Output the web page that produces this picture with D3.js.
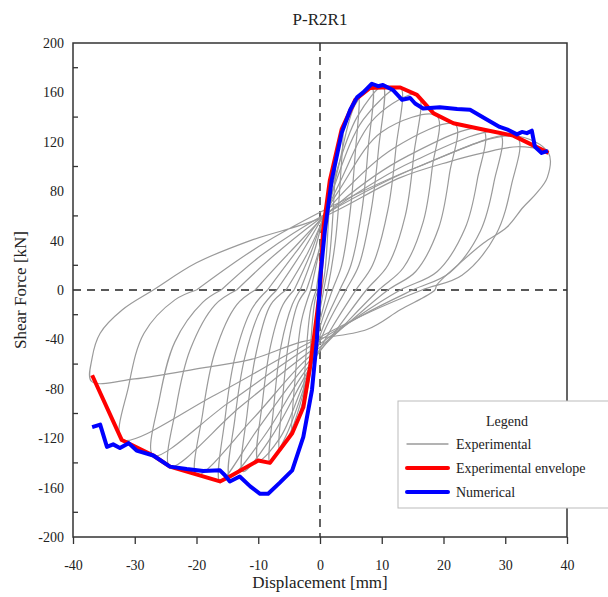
<!DOCTYPE html>
<html>
<head>
<meta charset="utf-8">
<script src="https://cdn.jsdelivr.net/npm/d3@7"></script>
<style>
    body { margin: 0; background: #fff; }
    svg { display: block; font-family: "Liberation Serif", "DejaVu Serif", serif; }
    .tick text { font-size: 14px; fill: #222; }
</style>
</head>
<body>
<div id="chart"></div>
<script>
// experimental hysteresis, one array per cycle: [displacement mm, force kN]
let cycle1 = [[0,0],[0.5,40],[1.0,70],[1.6,89],[1.3,50],[0.8,15],[0.3,0],[-0.3,-25],[-1.0,-48],[-1.6,-62],[-1.3,-30],[-0.8,-8],[-0.3,0]];
let cycle2 = [[-0.3,0],[0.5,35],[1.5,80],[2.5,110],[2.2,70],[1.5,25],[0.6,0],[-0.5,-30],[-1.6,-68],[-2.7,-95],[-2.3,-55],[-1.5,-15],[-0.6,0]];
let cycle3 = [[-0.6,0],[0.5,40],[2.0,95],[3.7,132],[3.3,90],[2.5,40],[1.2,0],[-0.5,-35],[-2.5,-85],[-4.5,-116],[-4.0,-70],[-3.0,-25],[-1.5,0]];
let cycle4 = [[-1.5,0],[0,35],[2.5,105],[4.5,140],[6.2,157],[5.7,110],[4.8,60],[3.5,20],[2,0],[0,-30],[-2.5,-80],[-4.5,-112],[-6.5,-130],[-6.0,-85],[-5.0,-40],[-3.5,-10],[-2.2,0]];
let cycle5 = [[-2.2,0],[0,35],[3,100],[5.7,150],[8.4,164],[7.8,115],[6.8,65],[5.0,20],[3.2,0],[0.5,-30],[-3,-85],[-5.5,-118],[-8.1,-140],[-7.5,-95],[-6.3,-45],[-4.5,-12],[-3.2,0]];
let cycle6 = [[-3.2,0],[-1,30],[2,85],[6,140],[10.2,165],[9.5,115],[8.3,65],[6.3,20],[4.2,0],[1,-30],[-3,-80],[-6.5,-120],[-10,-138],[-9.3,-90],[-8.0,-45],[-6,-12],[-4.2,0]];
let cycle7 = [[-4.2,0],[-1.5,30],[2,80],[7,138],[13,164],[12.3,115],[11,65],[8.5,20],[5.8,0],[2,-30],[-3,-75],[-8,-120],[-12.5,-147],[-11.8,-100],[-10.3,-50],[-8,-12],[-5.5,0]];
let cycle8 = [[-5.5,0],[-2,30],[3,85],[9,140],[15.9,158],[15.2,110],[13.8,60],[11,20],[7.5,0],[3,-30],[-3,-70],[-9,-118],[-14.6,-151],[-13.8,-105],[-12.2,-55],[-9.5,-15],[-7,0]];
let cycle9 = [[-7,0],[-3,30],[3,80],[10,128],[18.9,141],[18.2,100],[16.7,55],[13.5,18],[9.5,0],[4,-28],[-3,-65],[-10,-112],[-16.2,-155],[-15.4,-105],[-13.8,-55],[-11,-15],[-8.5,0]];
let cycle10 = [[-8.5,0],[-4,30],[3,75],[12,115],[21.9,134],[21,95],[19.2,50],[15.5,15],[11,0],[5,-25],[-3,-60],[-11,-105],[-20,-150],[-19,-100],[-17,-50],[-13.5,-12],[-10.5,0]];
let cycle11 = [[-10.5,0],[-5,30],[3,70],[14,108],[26.4,130],[25.5,90],[23.5,50],[19,15],[13,0],[6,-22],[-3,-55],[-13,-95],[-24.3,-143],[-23.3,-95],[-21,-48],[-17,-12],[-13.5,0]];
let cycle12 = [[-13.5,0],[-7,30],[2,65],[15,104],[29.1,127],[28.2,88],[26,48],[21,14],[15,0],[7,-20],[-3,-50],[-15,-92],[-27,-134],[-26,-88],[-23.5,-42],[-19,-10],[-16,0]];
let cycle13 = [[-16,0],[-9,30],[1,62],[16,100],[31.9,124],[31,85],[28.5,45],[23,12],[16.5,0],[8,-18],[-3,-46],[-17,-85],[-32.1,-121],[-31,-78],[-28.5,-35],[-23.5,-8],[-20,0]];
let cycle14 = [[-20,0],[-10,35],[2,68],[16,100],[31.3,125],[37,111],[36.8,91],[35,78],[32.9,67],[30.3,51],[26.5,38],[22.7,22],[18.9,4],[18.6,0],[13,-16],[7.6,-32],[-3,-42],[-11,-56],[-19,-63],[-30,-72],[-37,-74],[-36.9,-55],[-35.6,-35],[-32,-16],[-27,0],[-20,22],[-11.3,40],[0,58],[13,91],[21,104],[26.4,111],[32,116],[37,113]];

let experimental = [cycle1, cycle2, cycle3, cycle4, cycle5, cycle6, cycle7, cycle8, cycle9, cycle10, cycle11, cycle12, cycle13, cycle14];

// experimental envelope
let envelope = [[-36.9,-69],[-32.1,-121.5],[-27,-134],[-24.3,-143],[-16.2,-155],[-14.6,-151],[-10,-138],[-8.1,-140],[-4.5,-116],[-2.7,-95],[-1.6,-62],[-0.5,-20],[0,0],[0.5,48.6],[1.6,89],[3.5,130],[5.7,154],[8.1,163.6],[10,164],[13,164],[15.7,158],[18.4,143],[21.6,135],[26.4,130],[31.3,125],[37,111]];

// numerical model
let numerical = [[-36.9,-111],[-35.6,-109],[-34.5,-127],[-33.5,-125],[-32.4,-128],[-31,-124],[-29.7,-130],[-27,-134],[-24.3,-143],[-21.6,-145],[-18.9,-146.5],[-16.2,-146],[-15.4,-150],[-14.6,-155],[-13,-151],[-11.3,-159],[-9.7,-165],[-8.4,-165],[-6.5,-156],[-4.5,-146],[-2.7,-119],[-1.3,-81],[-0.5,-40],[0,8],[0.8,48.6],[1.9,89],[3.5,127],[4.9,146],[6,156],[7,160],[8.4,167],[9.4,165],[10.2,166],[11.8,162],[13.3,154],[14.6,155.5],[15.4,151],[16.7,147],[19.4,148],[22.2,146.5],[24.3,146],[27,138],[29.1,132],[30.5,129.6],[31.9,126],[32.7,128],[33.5,127],[34.3,129],[34.8,116],[35.9,111],[36.9,112.6]];

let xTicks = [-40, -30, -20, -10, 0, 10, 20, 30, 40];
let yTicks = [-200, -160, -120, -80, -40, 0, 40, 80, 120, 160, 200];
let yMinorTicks = [-180, -140, -100, -60, -20, 20, 60, 100, 140, 180];

let legendItems = [
    {label: "Experimental", color: "#9a9a9a", width: 1.3},
    {label: "Experimental envelope", color: "#ff0000", width: 4},
    {label: "Numerical", color: "#0000ff", width: 4}
];

let width = 608, height = 597;
let margin = {top: 43, right: 41, bottom: 60, left: 73};

let svg = d3.select("#chart").append("svg")
    .attr("width", width)
    .attr("height", height);

let x = d3.scaleLinear().domain([-40, 40]).range([margin.left, width - margin.right]);
let y = d3.scaleLinear().domain([-200, 200]).range([height - margin.bottom, margin.top]);

// title
svg.append("text")
    .attr("x", x(0))
    .attr("y", 25)
    .attr("text-anchor", "middle")
    .style("font-size", "17px")
    .attr("fill", "#222")
    .text("P-R2R1");

// zero lines
svg.append("line")
    .attr("x1", x(0)).attr("x2", x(0))
    .attr("y1", y(200)).attr("y2", y(-200))
    .attr("stroke", "#222").attr("stroke-width", 1.4)
    .attr("stroke-dasharray", "8,6");

svg.append("line")
    .attr("x1", x(-40)).attr("x2", x(40))
    .attr("y1", y(0)).attr("y2", y(0))
    .attr("stroke", "#222").attr("stroke-width", 1.4)
    .attr("stroke-dasharray", "8,6");

let line = d3.line()
    .x(d => x(d[0]))
    .y(d => y(d[1]));

// experimental loops
svg.append("g")
    .selectAll("path")
    .data(experimental)
    .enter()
    .append("path")
    .attr("d", d => line.curve(d3.curveCatmullRom.alpha(0.5))(d))
    .attr("fill", "none")
    .attr("stroke", "#9a9a9a")
    .attr("stroke-width", 1.2);

// envelope
svg.append("path")
    .attr("d", line.curve(d3.curveLinear)(envelope))
    .attr("fill", "none")
    .attr("stroke", "#ff0000")
    .attr("stroke-width", 4)
    .attr("stroke-linejoin", "round");

// numerical
svg.append("path")
    .attr("d", line.curve(d3.curveLinear)(numerical))
    .attr("fill", "none")
    .attr("stroke", "#0000ff")
    .attr("stroke-width", 4)
    .attr("stroke-linejoin", "round");

// frame
svg.append("rect")
    .attr("x", x(-40))
    .attr("y", y(200))
    .attr("width", x(40) - x(-40))
    .attr("height", y(-200) - y(200))
    .attr("fill", "none")
    .attr("stroke", "#333")
    .attr("stroke-width", 1.5);

// axes
let xAxis = d3.axisBottom(x)
    .tickValues(xTicks)
    .tickFormat(d => String(d))
    .tickSize(7)
    .tickPadding(16);

svg.append("g")
    .attr("transform", `translate(0,${y(-200)})`)
    .call(xAxis)
    .call(g => g.select(".domain").remove())
    .call(g => g.selectAll(".tick line").attr("stroke", "#333").attr("stroke-width", 1.3));

let yAxis = d3.axisLeft(y)
    .tickValues(yTicks)
    .tickFormat(d => String(d))
    .tickSize(0)
    .tickPadding(9);

svg.append("g")
    .attr("transform", `translate(${x(-40)},0)`)
    .call(yAxis)
    .call(g => g.select(".domain").remove());

svg.append("g")
    .selectAll("line")
    .data(yMinorTicks)
    .enter()
    .append("line")
    .attr("x1", x(-40)).attr("x2", x(-40) + 5)
    .attr("y1", d => y(d)).attr("y2", d => y(d))
    .attr("stroke", "#333")
    .attr("stroke-width", 1.3);

svg.selectAll(".tick text").style("font-family", "Liberation Serif, DejaVu Serif, serif");

// axis titles
svg.append("text")
    .attr("x", x(0))
    .attr("y", 588)
    .attr("text-anchor", "middle")
    .style("font-size", "17px")
    .attr("fill", "#222")
    .text("Displacement [mm]");

svg.append("text")
    .attr("transform", `translate(26,${y(0)})rotate(-90)`)
    .attr("text-anchor", "middle")
    .style("font-size", "17px")
    .attr("fill", "#222")
    .text("Shear Force [kN]");

// legend
let legend = svg.append("g").attr("transform", "translate(398,401)");

legend.append("rect")
    .attr("width", 230)
    .attr("height", 107)
    .attr("fill", "#fff")
    .attr("stroke", "#bbb")
    .attr("stroke-width", 1);

legend.append("text")
    .attr("x", 109)
    .attr("y", 25)
    .attr("text-anchor", "middle")
    .style("font-size", "14px")
    .attr("fill", "#222")
    .text("Legend");

let rows = legend.selectAll(".row")
    .data(legendItems)
    .enter()
    .append("g")
    .attr("class", "row")
    .attr("transform", (d, i) => `translate(0,${43 + i * 24})`);

rows.append("line")
    .attr("x1", 9).attr("x2", 50)
    .attr("stroke", d => d.color)
    .attr("stroke-width", d => d.width)
    .attr("stroke-linecap", "round");

rows.append("text")
    .attr("x", 58)
    .attr("y", 5)
    .style("font-size", "14px")
    .attr("fill", "#222")
    .text(d => d.label);
</script>
</body>
</html>
